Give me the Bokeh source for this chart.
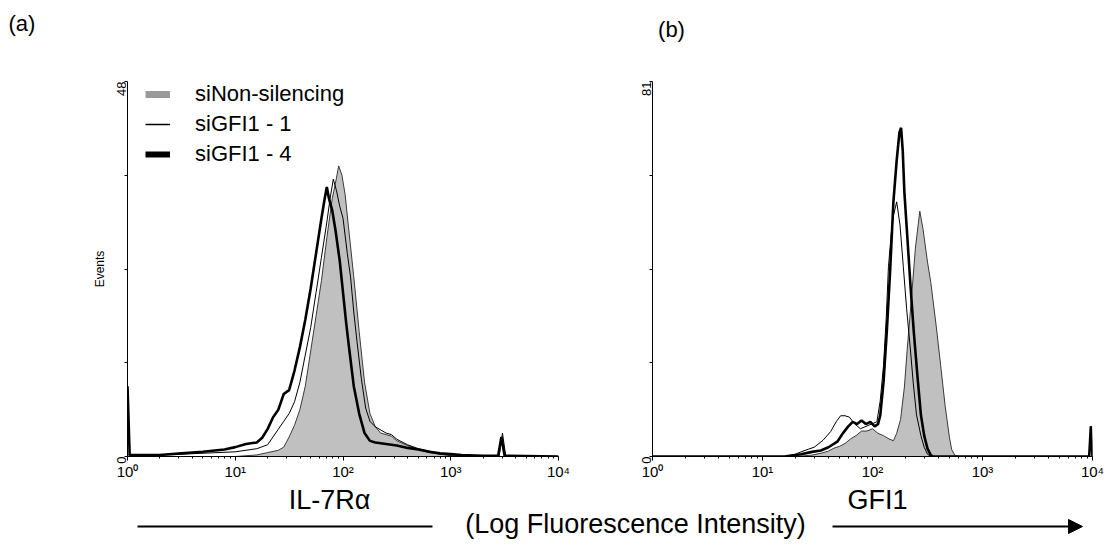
import math
import numpy as np
from bokeh.plotting import figure
from bokeh.layouts import row, column
from bokeh.models import (Range1d, FixedTicker, CustomJSTickFormatter, Label, Legend,
                          LegendItem, Arrow, NormalHead)
from bokeh.embed import file_html
from bokeh.resources import INLINE

FONT = "Liberation Sans"

# ---------------- data (log10 intensity, events) ----------------
# Panel (a): IL-7Ralpha
a_non_log = [0.0, 1.0, 1.2, 1.3, 1.4, 1.45, 1.5, 1.55, 1.6, 1.65, 1.7, 1.75, 1.8, 1.85, 1.9, 1.93,
             1.96, 1.99, 2.02, 2.05, 2.1, 2.15, 2.2, 2.25, 2.3, 2.35, 2.4, 2.45, 2.5, 2.6, 2.7, 2.8,
             2.9, 3.0, 3.1, 4.0]
a_non_cnt = [0, 0, 0.2, 0.5, 0.8, 1.2, 2.5, 4, 6, 9, 13.5, 18, 22.5, 28, 33, 35,
             37.2, 36, 33.5, 29.5, 23, 16, 9.5, 5.5, 3.8, 3, 2.8, 2.6, 2, 1.4, 0.9, 0.5,
             0.3, 0.1, 0, 0]

a_g1_log = [0.0, 0.5, 1.0, 1.2, 1.3, 1.35, 1.4, 1.45, 1.5, 1.55, 1.6, 1.65, 1.7, 1.75, 1.8, 1.85,
            1.88, 1.91, 1.94, 1.97, 2.0, 2.04, 2.07, 2.1, 2.13, 2.17, 2.21, 2.25, 2.3, 2.4, 2.45,
            2.5, 2.6, 2.7, 2.8, 2.9, 3.0, 3.2, 3.45, 3.48, 3.51, 4.0]
a_g1_cnt = [0.2, 0.3, 0.6, 1.0, 1.5, 2.5, 3.5, 4.5, 5.5, 7, 9.5, 13, 16.5, 21, 25.5, 30,
            33, 35.5, 34, 32, 30.5, 26, 23, 18.5, 14.7, 10, 6.2, 4.5, 3.8, 3.0, 2.8,
            2.2, 1.5, 1.0, 0.7, 0.4, 0.2, 0.1, 0.1, 3, 0.1, 0]

a_g4_log = [0.0, 0.02, 0.3, 0.5, 0.7, 0.9, 1.0, 1.1, 1.2, 1.25, 1.3, 1.35, 1.4, 1.45, 1.5, 1.55,
            1.6, 1.65, 1.7, 1.75, 1.8, 1.83, 1.85, 1.87, 1.9, 1.93, 1.97, 2.0, 2.03, 2.06, 2.1,
            2.15, 2.2, 2.25, 2.3, 2.4, 2.5, 2.6, 2.7, 2.8, 2.9, 3.0, 3.1, 3.3, 3.44, 3.47, 3.5, 4.0]
a_g4_cnt = [9, 0.2, 0.2, 0.4, 0.6, 0.9, 1.2, 1.6, 1.8, 2.4, 3.5, 5, 6, 8, 8.5, 11,
            14, 17.5, 21.5, 26, 30.5, 33, 34.5, 33, 31.5, 29, 25, 21, 17, 13.5, 9,
            5.5, 3, 2, 1.8, 1.6, 1.4, 1.1, 0.9, 0.6, 0.4, 0.3, 0.2, 0.1, 0.1, 2.5, 0.1, 0]

# Panel (b): GFI1
b_non_log = [0.0, 1.3, 1.45, 1.55, 1.6, 1.65, 1.7, 1.75, 1.8, 1.85, 1.9, 1.95, 2.0, 2.05, 2.1,
             2.15, 2.19, 2.22, 2.255, 2.29, 2.315, 2.35, 2.39, 2.43, 2.46, 2.5, 2.53, 2.58, 2.62,
             2.66, 2.7, 2.72, 2.75, 2.8, 4.0]
b_non_cnt = [0, 0, 0.3, 0.8, 1.2, 1.8, 2.2, 2.8, 3.8, 4.5, 5.5, 5.5, 6, 5, 4.5,
             3.8, 3.4, 5, 8, 15, 23, 33, 45, 53, 49, 42, 37.6, 28, 19.6,
             11, 4, 1.5, 0.2, 0, 0]

b_g1_log = [0.0, 1.2, 1.3, 1.35, 1.42, 1.47, 1.55, 1.62, 1.67, 1.71, 1.75, 1.79, 1.84, 1.89, 1.94,
            1.99, 2.04, 2.07, 2.1, 2.125, 2.145, 2.17, 2.19, 2.22, 2.25, 2.28, 2.31, 2.345, 2.37,
            2.4, 2.44, 2.47, 2.5, 2.53, 3.97, 3.985, 4.0]
b_g1_cnt = [0, 0, 0.5, 1, 1.6, 2, 3.5, 5.4, 7.5, 8.8, 8.8, 8.5, 7, 6, 6.5,
            7, 7.5, 12, 19.6, 30, 41, 48, 52, 55, 50, 41, 32, 23, 16,
            9, 4.5, 2, 0.5, 0, 0, 6.5, 0]

b_g4_log = [0.0, 1.2, 1.35, 1.45, 1.53, 1.6, 1.68, 1.73, 1.78, 1.82, 1.86, 1.9, 1.94, 1.98, 2.02,
            2.05, 2.07, 2.1, 2.13, 2.16, 2.19, 2.22, 2.245, 2.26, 2.275, 2.29, 2.315, 2.345, 2.375,
            2.41, 2.44, 2.47, 2.5, 2.53, 2.55, 3.97, 3.985, 4.0]
b_g4_cnt = [0, 0, 0.5, 1, 1.3, 2, 3.2, 5, 6.5, 7.5, 7, 7.8, 7, 7.5, 6.5,
            7, 8.8, 16, 27, 40, 55, 64, 70, 71, 66, 57, 48, 37, 27,
            17, 9, 4.5, 1.7, 0.3, 0, 0, 6.5, 0]

series_labels = ["siNon-silencing", "siGFI1 - 1", "siGFI1 - 4"]
x_ticks = [1, 10, 100, 1000, 10000]
x_minor = [m * 10 ** k for k in range(4) for m in range(2, 10)]
a_ymax = 48
b_ymax = 81

GREY_FILL = "#c0c0c0"
GREY_EDGE = "#3a3a3a"

tick_fmt_code = """
const s = ['\u2070','\u00b9','\u00b2','\u00b3','\u2074'];
const k = Math.round(Math.log10(tick));
return '10' + s[k];
"""


def make_panel(width, height, bl, br, bt, bb, ymax, non, g1, g4, ylabel=None):
    p = figure(width=width, height=height, x_axis_type="log",
               x_range=Range1d(1, 10000), y_range=Range1d(0, ymax),
               toolbar_location=None, output_backend="svg",
               min_border_left=bl, min_border_right=br, min_border_top=bt, min_border_bottom=bb)
    p.grid.visible = False
    p.outline_line_color = None
    p.background_fill_color = "white"
    p.border_fill_color = "white"

    xa = p.xaxis[0]
    xa.ticker = FixedTicker(ticks=x_ticks, minor_ticks=x_minor)
    xa.formatter = CustomJSTickFormatter(code=tick_fmt_code)
    xa.axis_line_color = "black"
    xa.axis_line_width = 1
    xa.major_tick_out = 4
    xa.major_tick_in = 0
    xa.minor_tick_out = 2
    xa.minor_tick_in = 0
    xa.major_tick_line_color = "black"
    xa.minor_tick_line_color = "black"
    xa.major_label_text_font = FONT
    xa.major_label_text_font_size = "15px"
    xa.major_label_text_color = "black"
    xa.major_label_standoff = 2

    ya = p.yaxis[0]
    ya.ticker = FixedTicker(ticks=[0, ymax], minor_ticks=[ymax * 0.25, ymax * 0.5, ymax * 0.75])
    ya.axis_line_color = "black"
    ya.axis_line_width = 1
    ya.major_tick_out = 3
    ya.major_tick_in = 0
    ya.minor_tick_out = 3
    ya.minor_tick_in = 0
    ya.major_tick_line_color = "black"
    ya.minor_tick_line_color = "black"
    ya.major_label_text_font = FONT
    ya.major_label_text_font_size = "13px"
    ya.major_label_text_color = "black"
    ya.major_label_orientation = math.pi / 2
    ya.major_label_standoff = 3
    if ylabel:
        ya.axis_label = ylabel
        ya.axis_label_text_font = FONT
        ya.axis_label_text_font_size = "12px"
        ya.axis_label_text_font_style = "normal"
        ya.axis_label_text_color = "black"
        ya.axis_label_standoff = 3

    nx = 10 ** np.array(non[0], dtype=float)
    p.patch(nx, non[1], fill_color=GREY_FILL, line_color=GREY_EDGE, line_width=1)
    p.line(10 ** np.array(g1[0], dtype=float), g1[1], line_color="black", line_width=1)
    p.line(10 ** np.array(g4[0], dtype=float), g4[1], line_color="black", line_width=2.6)
    return p


TOP = 50
PANEL_H = 434
pa = make_panel(600, PANEL_H, 127, 42, 77 - TOP, PANEL_H - (77 - TOP) - 379, a_ymax,
                (a_non_log, a_non_cnt), (a_g1_log, a_g1_cnt), (a_g4_log, a_g4_cnt),
                ylabel="Events")
pb = make_panel(515, PANEL_H, 52, 23, 81 - TOP, PANEL_H - (81 - TOP) - 377, b_ymax,
                (b_non_log, b_non_cnt), (b_g1_log, b_g1_cnt), (b_g4_log, b_g4_cnt))

# legend (panel a) -- proxy renderers lying outside the visible range
r1 = pa.line([1e-3, 2e-3], [0, 0], line_color="#9a9a9a", line_width=7)
r2 = pa.line([1e-3, 2e-3], [0, 0], line_color="black", line_width=1.5)
r3 = pa.line([1e-3, 2e-3], [0, 0], line_color="black", line_width=6)
legend = Legend(items=[LegendItem(label=series_labels[0], renderers=[r1]),
                       LegendItem(label=series_labels[1], renderers=[r2]),
                       LegendItem(label=series_labels[2], renderers=[r3])],
                location=(18, 289), border_line_color=None, background_fill_alpha=0,
                label_text_font=FONT, label_text_font_size="22px", label_text_color="black",
                glyph_width=25, glyph_height=26, label_height=26, spacing=4,
                padding=0, margin=0, label_standoff=25)
pa.add_layout(legend)


def strip(height):
    s = figure(width=1115, height=height, x_range=Range1d(0, 1115), y_range=Range1d(0, height),
               toolbar_location=None, output_backend="svg", min_border=0,
               x_axis_location=None, y_axis_location=None)
    s.grid.visible = False
    s.outline_line_color = None
    return s


def add_text(s, x, y, text, size, align="center"):
    s.add_layout(Label(x=x, y=y, text=text, text_font=FONT, text_font_size=size,
                       text_color="black", text_align=align, text_baseline="middle"))


# top strip: panel letters
top = strip(TOP)
add_text(top, 8, TOP - 23, "(a)", "22px", align="left")
add_text(top, 671, TOP - 29, "(b)", "22px")

# bottom strip: marker names and shared caption
BOT = 550 - TOP - PANEL_H
bot = strip(BOT)
add_text(bot, 329, 550 - 499, "IL-7R\u03b1", "27px")
add_text(bot, 877, 550 - 499, "GFI1", "27px")
bot.segment(x0=[137], y0=[550 - 526], x1=[432], y1=[550 - 526], line_color="black", line_width=2)
bot.add_layout(Arrow(end=NormalHead(size=14, fill_color="black", line_color="black"),
                     x_start=832, y_start=550 - 526, x_end=1082, y_end=550 - 526,
                     line_color="black", line_width=2))
add_text(bot, 635, 550 - 523, "(Log Fluorescence Intensity)", "27px")

layout = column(top, row(pa, pb, spacing=0), bot, spacing=0)

with open("out.html", "w", encoding="utf-8") as f:
    f.write(file_html(layout, INLINE))
